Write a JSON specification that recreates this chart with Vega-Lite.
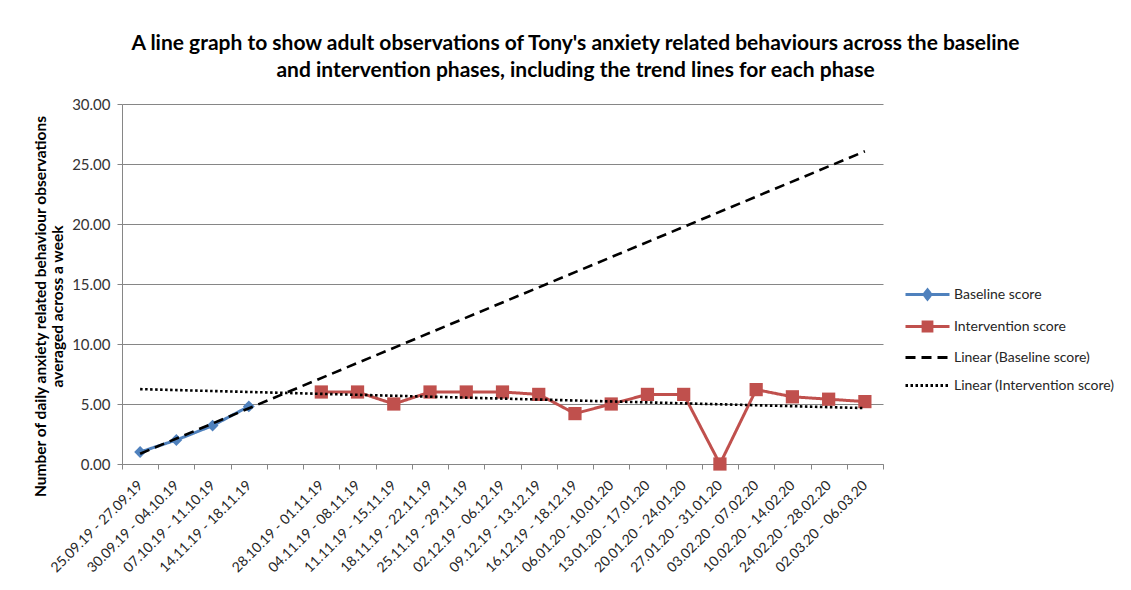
{
  "$schema": "https://vega.github.io/schema/vega-lite/v6.json",
  "width": 761,
  "height": 360,
  "autosize": "none",
  "padding": {"left": 122, "top": 104, "right": 248, "bottom": 126},
  "background": "white",
  "config": {
    "font": "Lato",
    "view": {"stroke": null}
  },
  "title": {
    "text": [
      "A line graph to show adult observations of Tony's anxiety related behaviours across the baseline",
      "and intervention phases, including the trend lines for each phase"
    ],
    "fontSize": 21,
    "fontWeight": "bold",
    "color": "#000000",
    "anchor": "middle",
    "frame": "group",
    "dx": 73,
    "offset": 16,
    "lineHeight": 27
  },
  "datasets": {
    "scores": [
      {"period": "25.09.19 - 27.09.19", "series": "Baseline score", "score": 1.0},
      {"period": "30.09.19 - 04.10.19", "series": "Baseline score", "score": 2.0},
      {"period": "07.10.19 - 11.10.19", "series": "Baseline score", "score": 3.2},
      {"period": "14.11.19 - 18.11.19", "series": "Baseline score", "score": 4.8},
      {"period": "28.10.19 - 01.11.19", "series": "Intervention score", "score": 6.0},
      {"period": "04.11.19 - 08.11.19", "series": "Intervention score", "score": 6.0},
      {"period": "11.11.19 - 15.11.19", "series": "Intervention score", "score": 5.0},
      {"period": "18.11.19 - 22.11.19", "series": "Intervention score", "score": 6.0},
      {"period": "25.11.19 - 29.11.19", "series": "Intervention score", "score": 6.0},
      {"period": "02.12.19 - 06.12.19", "series": "Intervention score", "score": 6.0},
      {"period": "09.12.19 - 13.12.19", "series": "Intervention score", "score": 5.8},
      {"period": "16.12.19 - 18.12.19", "series": "Intervention score", "score": 4.2},
      {"period": "06.01.20 - 10.01.20", "series": "Intervention score", "score": 5.0},
      {"period": "13.01.20 - 17.01.20", "series": "Intervention score", "score": 5.8},
      {"period": "20.01.20 - 24.01.20", "series": "Intervention score", "score": 5.8},
      {"period": "27.01.20 - 31.01.20", "series": "Intervention score", "score": 0.0},
      {"period": "03.02.20 - 07.02.20", "series": "Intervention score", "score": 6.2},
      {"period": "10.02.20 - 14.02.20", "series": "Intervention score", "score": 5.6},
      {"period": "24.02.20 - 28.02.20", "series": "Intervention score", "score": 5.4},
      {"period": "02.03.20 - 06.03.20", "series": "Intervention score", "score": 5.2}
    ],
    "trends": [
      {"period": "25.09.19 - 27.09.19", "series": "Linear (Baseline score)", "score": 0.86},
      {"period": "02.03.20 - 06.03.20", "series": "Linear (Baseline score)", "score": 26.06},
      {"period": "25.09.19 - 27.09.19", "series": "Linear (Intervention score)", "score": 6.24},
      {"period": "02.03.20 - 06.03.20", "series": "Linear (Intervention score)", "score": 4.66}
    ]
  },
  "layer": [
    {
      "data": {"name": "scores"},
      "mark": {"type": "line", "strokeWidth": 3},
      "encoding": {
        "x": {
          "field": "period",
          "type": "nominal",
          "sort": null,
          "bandPosition": 0.5,
          "scale": {
            "type": "band",
            "paddingInner": 0,
            "paddingOuter": 0,
            "domain": [
              "25.09.19 - 27.09.19", "30.09.19 - 04.10.19", "07.10.19 - 11.10.19", "14.11.19 - 18.11.19", " ",
              "28.10.19 - 01.11.19", "04.11.19 - 08.11.19", "11.11.19 - 15.11.19", "18.11.19 - 22.11.19",
              "25.11.19 - 29.11.19", "02.12.19 - 06.12.19", "09.12.19 - 13.12.19", "16.12.19 - 18.12.19",
              "06.01.20 - 10.01.20", "13.01.20 - 17.01.20", "20.01.20 - 24.01.20", "27.01.20 - 31.01.20",
              "03.02.20 - 07.02.20", "10.02.20 - 14.02.20", "24.02.20 - 28.02.20", "02.03.20 - 06.03.20"
            ]
          },
          "axis": {
            "title": null,
            "labelAngle": -45,
            "labelAlign": "right",
            "labelBaseline": "middle",
            "labelFontSize": 14,
            "labelColor": "#262626",
            "labelPadding": 14,
            "tickBand": "extent",
            "ticks": true,
            "tickSize": 5,
            "tickColor": "#868686",
            "domainColor": "#868686",
            "grid": false
          }
        },
        "y": {
          "field": "score",
          "type": "quantitative",
          "scale": {"domain": [0, 30], "nice": false, "zero": true},
          "axis": {
            "values": [0, 5, 10, 15, 20, 25, 30],
            "format": ".2f",
            "labelFontSize": 15,
            "labelColor": "#333333",
            "labelPadding": 7,
            "tickSize": 5,
            "tickColor": "#868686",
            "domainColor": "#868686",
            "gridColor": "#868686",
            "grid": true,
            "title": [
              "Number of daily anxiety related behaviour observations",
              "averaged across a week"
            ],
            "titleFontSize": 15.5,
            "titleFontWeight": "bold",
            "titleColor": "#000000",
            "titleAngle": -90,
            "titleAlign": "center",
            "titleBaseline": "top",
            "titleLineHeight": 17,
            "titleX": -89,
            "titleY": 202
          }
        },
        "color": {
          "field": "series",
          "type": "nominal",
          "scale": {
            "domain": ["Baseline score", "Intervention score", "Linear (Baseline score)", "Linear (Intervention score)"],
            "range": ["#4F81BD", "#C0504D", "#000000", "#000000"]
          },
          "legend": {
            "title": null,
            "orient": "none",
            "legendX": 793,
            "legendY": 178,
            "labelFontSize": 14,
            "labelColor": "#262626",
            "labelLimit": 300,
            "symbolSize": 484,
            "symbolStrokeWidth": 3,
            "labelOffset": 14,
            "rowPadding": 8,
            "encode": {
              "symbols": {
                "update": {
                  "shape": {"signal": "datum.value === 'Baseline score' ? 'M-2,0H2M0,-0.42L0.32,0L0,0.42L-0.32,0Z' : datum.value === 'Intervention score' ? 'M-2,0H2M-0.4,-0.4H0.4V0.4H-0.4Z' : 'M-2,0H2'"},
                  "fill": {"signal": "datum.value === 'Baseline score' ? '#4F81BD' : datum.value === 'Intervention score' ? '#C0504D' : 'transparent'"}
                }
              }
            }
          }
        },
        "strokeDash": {
          "field": "series",
          "type": "nominal",
          "scale": {
            "domain": ["Baseline score", "Intervention score", "Linear (Baseline score)", "Linear (Intervention score)"],
            "range": [[1, 0], [1, 0], [10, 6], [2.5, 2.5]]
          }
        }
      }
    },
    {
      "data": {"name": "scores"},
      "mark": {"type": "point", "filled": true, "opacity": 1, "strokeWidth": 0},
      "encoding": {
        "x": {"field": "period", "type": "nominal", "bandPosition": 0.5},
        "y": {"field": "score", "type": "quantitative"},
        "color": {"field": "series", "type": "nominal"},
        "shape": {
          "field": "series",
          "type": "nominal",
          "scale": {"domain": ["Baseline score", "Intervention score"], "range": ["diamond", "square"]},
          "legend": null
        },
        "size": {
          "field": "series",
          "type": "nominal",
          "scale": {"domain": ["Baseline score", "Intervention score"], "range": [140, 175]},
          "legend": null
        }
      }
    },
    {
      "data": {"name": "trends"},
      "mark": {"type": "line", "strokeWidth": 2.6},
      "encoding": {
        "x": {"field": "period", "type": "nominal", "bandPosition": 0.5},
        "y": {"field": "score", "type": "quantitative"},
        "color": {"field": "series", "type": "nominal"},
        "strokeDash": {"field": "series", "type": "nominal"}
      }
    }
  ]
}
